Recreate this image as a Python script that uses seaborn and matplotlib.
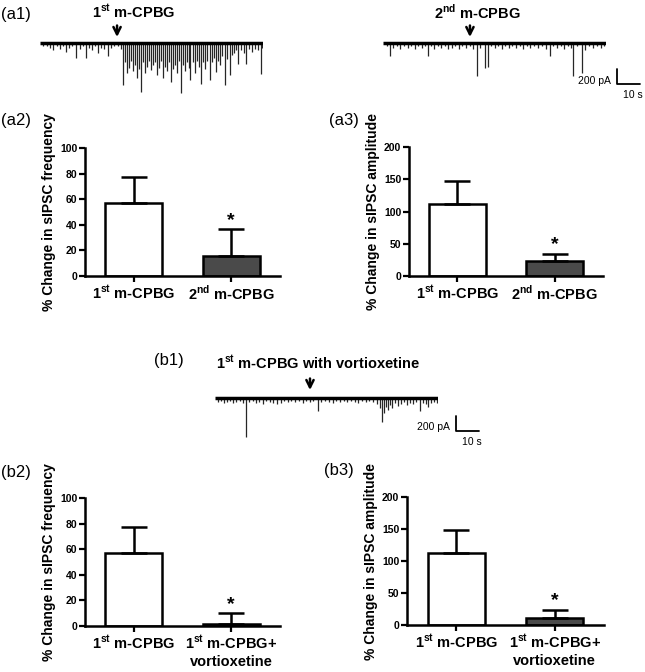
import matplotlib
matplotlib.use("Agg")
import matplotlib.pyplot as plt
import seaborn as sns

sns.set_theme(style="ticks")
plt.rcParams["font.family"] = ["Liberation Sans", "DejaVu Sans"]
plt.rcParams["font.weight"] = "bold"
plt.rcParams["axes.labelweight"] = "bold"
plt.rcParams["mathtext.fontset"] = "custom"
plt.rcParams["mathtext.rm"] = "Liberation Sans:bold"
plt.rcParams["mathtext.bf"] = "Liberation Sans:bold"
for k in ["text.color", "axes.labelcolor", "xtick.color", "ytick.color", "axes.edgecolor"]:
    plt.rcParams[k] = "black"

W, H = 645, 672

# ---- data ----
lab_1st = r"1$^{\mathbf{st}}$ m-CPBG"
lab_2nd = r"2$^{\mathbf{nd}}$ m-CPBG"
lab_vort = "1$^{\\mathbf{st}}$ m-CPBG+\nvortioxetine"

freq_a = [57, 15.6]
freq_a_err = [20, 20.8]
amp_a = [112, 23.3]
amp_a_err = [36, 10.5]
freq_b = [57, 1.3]
freq_b_err = [20, 8.6]
amp_b = [113, 11.5]
amp_b_err = [36, 12]

# traces: event times (s) and peak amplitudes (pA, inward = downward)
trace1_t = [1.3, 3.0, 4.3, 5.7, 7.4, 8.7, 10.0, 11.3, 12.6, 13.9, 15.7, 17.4, 18.7, 20.0,
            21.3, 22.6, 23.9, 25.2, 26.5, 27.8, 29.6, 30.9, 32.2, 33.9,
            35.2, 36.1, 37.0, 37.8, 38.7, 39.6, 40.4, 41.3, 42.2, 43.0,
            43.9, 44.8, 45.7, 46.5, 47.4, 48.3, 49.1, 50.0, 50.9, 51.7,
            52.6, 53.5, 54.3, 55.2, 56.1, 57.0, 57.8, 58.7, 59.6, 60.4,
            61.3, 62.2, 63.0, 63.9, 64.8, 65.2, 66.5, 67.4, 68.3, 69.1,
            70.0, 70.9, 71.7, 72.6, 73.9, 74.8, 75.7, 76.5, 77.4, 78.3,
            79.1, 80.4, 81.3, 82.6, 83.5, 84.3, 85.2, 86.1, 87.4, 88.7,
            89.6, 90.9, 92.2, 93.5, 94.8, 96.1, 96.5]
trace1_amp = [53, 40, 67, 106, 53, 80, 40, 120, 67, 53, 200, 80, 53, 200,
              67, 106, 53, 133, 67, 80, 186, 67, 53, 40,
              80, 560, 266, 400, 333, 240, 373, 293, 466, 346,
              652, 266, 400, 320, 240, 360, 293, 266, 426, 333,
              240, 466, 320, 373, 266, 520, 346, 293, 400, 240,
              666, 293, 373, 266, 333, 493, 266, 400, 240, 320,
              546, 266, 346, 240, 493, 266, 200, 386, 240, 293,
              186, 560, 213, 426, 160, 133, 106, 280, 106, 133,
              280, 93, 120, 80, 106, 413, 67]

trace2_t = [1.7, 3.0, 4.3, 6.1, 7.4, 9.1, 10.9, 12.2, 13.9, 15.2, 17.0, 18.3, 19.6, 20.9,
            22.2, 23.9, 25.2, 27.0, 28.3, 30.0, 31.3, 33.0, 34.3, 36.1, 37.8, 39.1,
            40.9, 42.2, 44.3, 45.7, 47.0, 48.7, 50.0, 51.7, 53.0, 54.8, 56.1, 57.8,
            59.6, 60.9, 62.6, 63.9, 65.7, 67.4, 69.1, 70.9, 72.6, 73.9, 75.7, 77.4,
            78.7, 80.4, 81.7, 82.6, 84.3, 86.5, 87.8, 89.6, 91.3, 93.0, 94.8, 96.1]
trace2_amp = [53, 173, 67, 53, 80, 40, 67, 53, 80, 40, 67, 53, 186, 53,
              80, 40, 67, 53, 80, 67, 53, 80, 40, 67, 53, 80,
              452, 67, 333, 320, 53, 67, 40, 80, 53, 67, 40, 67,
              53, 80, 40, 67, 53, 67, 53, 80, 186, 53, 67, 40,
              80, 53, 67, 452, 53, 400, 106, 53, 67, 40, 67, 53]

trace3_t = [1.3, 2.6, 3.9, 5.2, 6.5, 7.8, 9.1, 10.9, 12.2, 13.5, 14.8, 16.5, 17.8, 19.1,
            20.9, 22.2, 23.9, 25.2, 27.0, 28.7, 30.0, 31.7, 33.0, 34.8, 36.5, 38.3,
            39.6, 41.3, 42.6, 44.8, 46.1, 47.8, 49.6, 51.3, 52.6, 54.3, 56.1, 57.4,
            59.1, 60.9, 62.2, 63.9, 65.7, 67.0, 68.7, 70.4, 71.7, 72.6, 73.5, 74.3,
            75.2, 76.1, 77.0, 78.3, 79.6, 80.9, 82.2, 83.5, 84.8, 86.1, 87.4, 89.1,
            90.4, 91.7, 92.6, 93.9, 95.2, 96.5]
trace3_amp = [53, 40, 67, 53, 40, 67, 53, 40, 67, 520, 53, 40, 67, 53,
              80, 40, 53, 67, 80, 67, 40, 53, 40, 53, 40, 67,
              40, 53, 40, 173, 53, 40, 53, 67, 40, 53, 40, 53,
              40, 53, 67, 40, 53, 40, 53, 80, 133, 320, 200, 120,
              160, 93, 133, 67, 106, 80, 53, 93, 67, 80, 53, 173,
              67, 80, 120, 67, 53, 67]

# ---- layout helpers ----
PX_PER_S = 2.3
PA_PER_PX = 13.3
T_END = 97
Y_TOP, Y_BOT = 480, -780

fig = plt.figure(figsize=(W / 100, H / 100), dpi=100)


def box(x0, y0, x1, y1):
    return [x0 / W, 1 - y1 / H, (x1 - x0) / W, (y1 - y0) / H]


def trace_axes(x0, base):
    ax = fig.add_axes(box(x0, base - Y_TOP / PA_PER_PX,
                          x0 + T_END * PX_PER_S, base - Y_BOT / PA_PER_PX))
    ax.set_xlim(0, T_END)
    ax.set_ylim(Y_BOT, Y_TOP)
    ax.axis("off")
    return ax


def draw_trace(ax, t, amp, title, t_arrow, arrow_y, title_x, title_y):
    ax.vlines(t, 0, [-a for a in amp], color="0.15", lw=0.9)
    ax.plot([0, T_END], [0, 0], color="black", lw=2.5, solid_capstyle="butt")
    ax.annotate("", xy=(t_arrow, arrow_y[0]), xytext=(t_arrow, arrow_y[1]),
                arrowprops=dict(arrowstyle="->", lw=1.8, color="black",
                                mutation_scale=13, shrinkA=0, shrinkB=0))
    ax.text(title_x, title_y, title, ha="center", va="center", fontsize=10.5)


def scale_bar(ax, tx, y_top):
    ax.plot([tx, tx, tx + 10], [y_top, y_top - 200, y_top - 200], color="black",
            lw=1.3, clip_on=False)
    ax.text(tx - 2.6, y_top - 150, "200 pA", ha="right", va="center",
            fontsize=7.5, fontweight="normal")
    ax.text(tx + 7, y_top - 340, "10 s", ha="center", va="center",
            fontsize=7.5, fontweight="normal")


def bar_panel(rect, labels, vals, errs, ymax, yticks, ylabel):
    ax = fig.add_axes(box(*rect))
    sns.barplot(x=labels, y=vals, hue=labels, palette=["white", "#4a4a4a"],
                edgecolor="black", linewidth=1.8, width=0.58, legend=False, ax=ax)
    ax.errorbar([0, 1], vals, yerr=[[0, 0], errs], fmt="none", ecolor="black",
                elinewidth=1.8, capsize=9.5, capthick=1.8, zorder=1)
    ax.annotate("*", xy=(1, vals[1] + errs[1]), xytext=(0, 0.5),
                textcoords="offset points", ha="center", va="bottom", fontsize=14)
    ax.set_xlim(-0.5, 1.5)
    ax.set_ylim(0, ymax)
    ax.set_yticks(yticks)
    ax.set_ylabel(ylabel, fontsize=10, labelpad=3)
    ax.tick_params(axis="y", length=4, width=1.6, labelsize=7.5, pad=1.5)
    ax.tick_params(axis="x", length=4, width=1.6, labelsize=10.5, pad=2)
    for s in ["left", "bottom"]:
        ax.spines[s].set_linewidth(1.8)
    sns.despine(ax=ax)
    return ax


# ---- traces ----
ax1 = trace_axes(40, 42.5)
draw_trace(ax1, trace1_t, trace1_amp, lab_1st, 33.5, (73, 226), 40.9, 406)
ax2 = trace_axes(383, 42.5)
draw_trace(ax2, trace2_t, trace2_amp, lab_2nd, 37.8, (73, 226), 40.9, 406)
scale_bar(ax2, 101.7, -356)
ax3 = trace_axes(215, 398)
draw_trace(ax3, trace3_t, trace3_amp, lab_1st + " with vortioxetine", 41.3,
           (106, 259), 44.8, 461)
scale_bar(ax3, 104.8, -240)

# ---- bar charts ----
freq_lbl = "% Change in sIPSC frequency"
amp_lbl = "% Change in sIPSC amplitude"
bar_panel((85, 148, 280, 276), [lab_1st, lab_2nd], freq_a, freq_a_err,
          100, [0, 20, 40, 60, 80, 100], freq_lbl)
bar_panel((409, 147, 603, 276), [lab_1st, lab_2nd], amp_a, amp_a_err,
          200, [0, 50, 100, 150, 200], amp_lbl)
bar_panel((85, 498, 280, 626), [lab_1st, lab_vort], freq_b, freq_b_err,
          100, [0, 20, 40, 60, 80, 100], freq_lbl)
bar_panel((407, 497, 604, 625), [lab_1st, lab_vort], amp_b, amp_b_err,
          200, [0, 50, 100, 150, 200], amp_lbl)

# ---- panel letters ----
for txt, x, y in [("(a1)", 1, 15), ("(a2)", 1, 121), ("(a3)", 329, 120),
                  ("(b1)", 154, 360), ("(b2)", 1, 472), ("(b3)", 324, 471)]:
    fig.text(x / W, 1 - y / H, txt, ha="left", va="center", fontsize=12,
             fontweight="normal")

fig.savefig("out.png", dpi=100)
